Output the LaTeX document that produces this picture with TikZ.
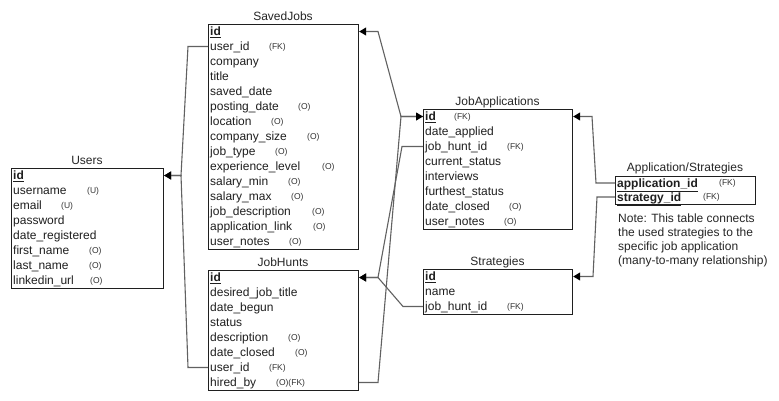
\documentclass[tikz,border=0pt]{standalone}
\usepackage{fontspec}
\setmainfont{Liberation Sans}
\usetikzlibrary{arrows.meta}
\newcommand\pk[1]{\textbf{\underline{#1}}}
\begin{document}
\begin{tikzpicture}[x=1pt,y=-1pt,
  tbl/.style={draw=black!88, line width=1.2pt, inner sep=0pt, anchor=north west},
  ttl/.style={font=\fontsize{12}{14}\selectfont, anchor=base, inner sep=0pt, text=black!85},
  fld/.style={font=\fontsize{12}{14}\selectfont, anchor=west, inner sep=0pt, text height=10pt, text depth=2pt, text=black!88},
  ann/.style={font=\fontsize{8.5}{10}\selectfont, anchor=west, inner sep=0pt, text height=7pt, text depth=2pt, text=black!80},
  note/.style={font=\fontsize{12}{14}\selectfont, anchor=base west, inner sep=0pt, text=black!85},
  rel/.style={draw=black!62, line width=1.1pt, -{Triangle[length=7pt,width=8pt,color=black]}},
  ]
\fill[white] (0,0) rectangle (779,400);
\useasboundingbox (0,0) rectangle (779,400);

% ---------- Users ----------
\node[ttl] (tUsers) at (87,164.5) {Users};
\node[tbl, minimum width=152pt, minimum height=120pt] (users) at (11,168) {};
\node[fld] (u0) at (13,175.5) {\pk{id}};
\node[fld] (u1) at (13,190.5) {username};
\node[fld] (u2) at (13,205.5) {email};
\node[fld] (u3) at (13,220.5) {password};
\node[fld] (u4) at (13,235.5) {date\_registered};
\node[fld] (u5) at (13,250.5) {first\_name};
\node[fld] (u6) at (13,265.5) {last\_name};
\node[fld] (u7) at (13,280.5) {linkedin\_url};
\node[ann] (u1a) at (87,190.5) {(U)};
\node[ann] (u2a) at (61,205.5) {(U)};
\node[ann] (u5a) at (89,250.5) {(O)};
\node[ann] (u6a) at (89,265.5) {(O)};
\node[ann] (u7a) at (90,280.5) {(O)};

% ---------- SavedJobs ----------
\node[ttl] (tSaved) at (283,20.5) {SavedJobs};
\node[tbl, minimum width=150pt, minimum height=225pt] (sj) at (208,24) {};
\node[fld] (s0) at (210,31.5) {\pk{id}};
\node[fld] (s1) at (210,46.5) {user\_id};
\node[fld] (s2) at (210,61.5) {company};
\node[fld] (s3) at (210,76.5) {title};
\node[fld] (s4) at (210,91.5) {saved\_date};
\node[fld] (s5) at (210,106.5) {posting\_date};
\node[fld] (s6) at (210,121.5) {location};
\node[fld] (s7) at (210,136.5) {company\_size};
\node[fld] (s8) at (210,151.5) {job\_type};
\node[fld] (s9) at (210,166.5) {experience\_level};
\node[fld] (s10) at (210,181.5) {salary\_min};
\node[fld] (s11) at (210,196.5) {salary\_max};
\node[fld] (s12) at (210,211.5) {job\_description};
\node[fld] (s13) at (210,226.5) {application\_link};
\node[fld] (s14) at (210,241.5) {user\_notes};
\node[ann] (s1a) at (269,46.5) {(FK)};
\node[ann] (s5a) at (298,106.5) {(O)};
\node[ann] (s6a) at (271,121.5) {(O)};
\node[ann] (s7a) at (307,136.5) {(O)};
\node[ann] (s8a) at (275,151.5) {(O)};
\node[ann] (s9a) at (322,166.5) {(O)};
\node[ann] (s10a) at (288,181.5) {(O)};
\node[ann] (s11a) at (291,196.5) {(O)};
\node[ann] (s12a) at (312,211.5) {(O)};
\node[ann] (s13a) at (313,226.5) {(O)};
\node[ann] (s14a) at (289,241.5) {(O)};

% ---------- JobHunts ----------
\node[ttl] (tHunts) at (283,266.5) {JobHunts};
\node[tbl, minimum width=150pt, minimum height=120pt] (jh) at (208,270) {};
\node[fld] (h0) at (210,277.5) {\pk{id}};
\node[fld] (h1) at (210,292.5) {desired\_job\_title};
\node[fld] (h2) at (210,307.5) {date\_begun};
\node[fld] (h3) at (210,322.5) {status};
\node[fld] (h4) at (210,337.5) {description};
\node[fld] (h5) at (210,352.5) {date\_closed};
\node[fld] (h6) at (210,367.5) {user\_id};
\node[fld] (h7) at (210,382.5) {hired\_by};
\node[ann] (h4a) at (288,337.5) {(O)};
\node[ann] (h5a) at (295,352.5) {(O)};
\node[ann] (h6a) at (269,367.5) {(FK)};
\node[ann] (h7a) at (276,382.5) {(O)(FK)};

% ---------- JobApplications ----------
\node[ttl] (tApps) at (497.5,105.5) {JobApplications};
\node[tbl, minimum width=149pt, minimum height=120pt] (ja) at (423,109) {};
\node[fld] (a0) at (425,116.5) {\pk{id}};
\node[fld] (a1) at (425,131.5) {date\_applied};
\node[fld] (a2) at (425,146.5) {job\_hunt\_id};
\node[fld] (a3) at (425,161.5) {current\_status};
\node[fld] (a4) at (425,176.5) {interviews};
\node[fld] (a5) at (425,191.5) {furthest\_status};
\node[fld] (a6) at (425,206.5) {date\_closed};
\node[fld] (a7) at (425,221.5) {user\_notes};
\node[ann] (a0a) at (454,116.5) {(FK)};
\node[ann] (a2a) at (507,146.5) {(FK)};
\node[ann] (a6a) at (509,206.5) {(O)};
\node[ann] (a7a) at (504,221.5) {(O)};

% ---------- Strategies ----------
\node[ttl] (tStrat) at (497.5,265.5) {Strategies};
\node[tbl, minimum width=149pt, minimum height=45pt] (st) at (423,269) {};
\node[fld] (t0) at (425,276.5) {\pk{id}};
\node[fld] (t1) at (425,291.5) {name};
\node[fld] (t2) at (425,306.5) {job\_hunt\_id};
\node[ann] (t2a) at (507,306.5) {(FK)};

% ---------- Application/Strategies ----------
\node[ttl] (tAS) at (685,171.5) {Application/Strategies};
\node[tbl, minimum width=140pt, minimum height=28pt] (as) at (615,176) {};
\node[fld] (p0) at (617,183) {\pk{application\_id}};
\node[fld] (p1) at (617,197) {\pk{strategy\_id}};
\node[ann] (p0a) at (719,183) {(FK)};
\node[ann] (p1a) at (703,197) {(FK)};
\node[note] (n1) at (618,222) {Note: This table connects};
\node[note] (n2) at (618,236) {the used strategies to the};
\node[note] (n3) at (618,250) {specific job application};
\node[note] (n4) at (618,264) {(many-to-many relationship)};

% ---------- bend points ----------
\coordinate (kU) at (181,175.5);
\coordinate (kSJu) at (188,46.5);
\coordinate (kJHu) at (188,367.5);
\coordinate (kJA) at (401,116.5);
\coordinate (kSJ) at (378,31.5);
\coordinate (kHB) at (378,382.5);
\coordinate (kJH) at (378,277.5);
\coordinate (kJAh) at (402,146.5);
\coordinate (kSTh) at (403,306.5);
\coordinate (kP0) at (596,183);
\coordinate (kP0t) at (592,116.5);
\coordinate (kP1) at (597,197);
\coordinate (kP1t) at (593,276.5);

% ---------- relations ----------
\draw[rel] (s1 -| sj.west) -- (kSJu) -- (kU) -- (u0 -| users.east);
\draw[rel] (h6 -| jh.west) -- (kJHu) -- (kU) -- (u0 -| users.east);
\draw[rel] (a0 -| ja.west) -- (kJA) -- (kSJ) -- (s0 -| sj.east);
\draw[rel] (h7 -| jh.east) -- (kHB) -- (kJA) -- (a0 -| ja.west);
\draw[rel] (a2 -| ja.west) -- (kJAh) -- (kJH) -- (h0 -| jh.east);
\draw[rel] (t2 -| st.west) -- (kSTh) -- (kJH) -- (h0 -| jh.east);
\draw[rel] (p0 -| as.west) -- (kP0) -- (kP0t) -- (a0 -| ja.east);
\draw[rel] (p1 -| as.west) -- (kP1) -- (kP1t) -- (t0 -| st.east);
\end{tikzpicture}
\end{document}
